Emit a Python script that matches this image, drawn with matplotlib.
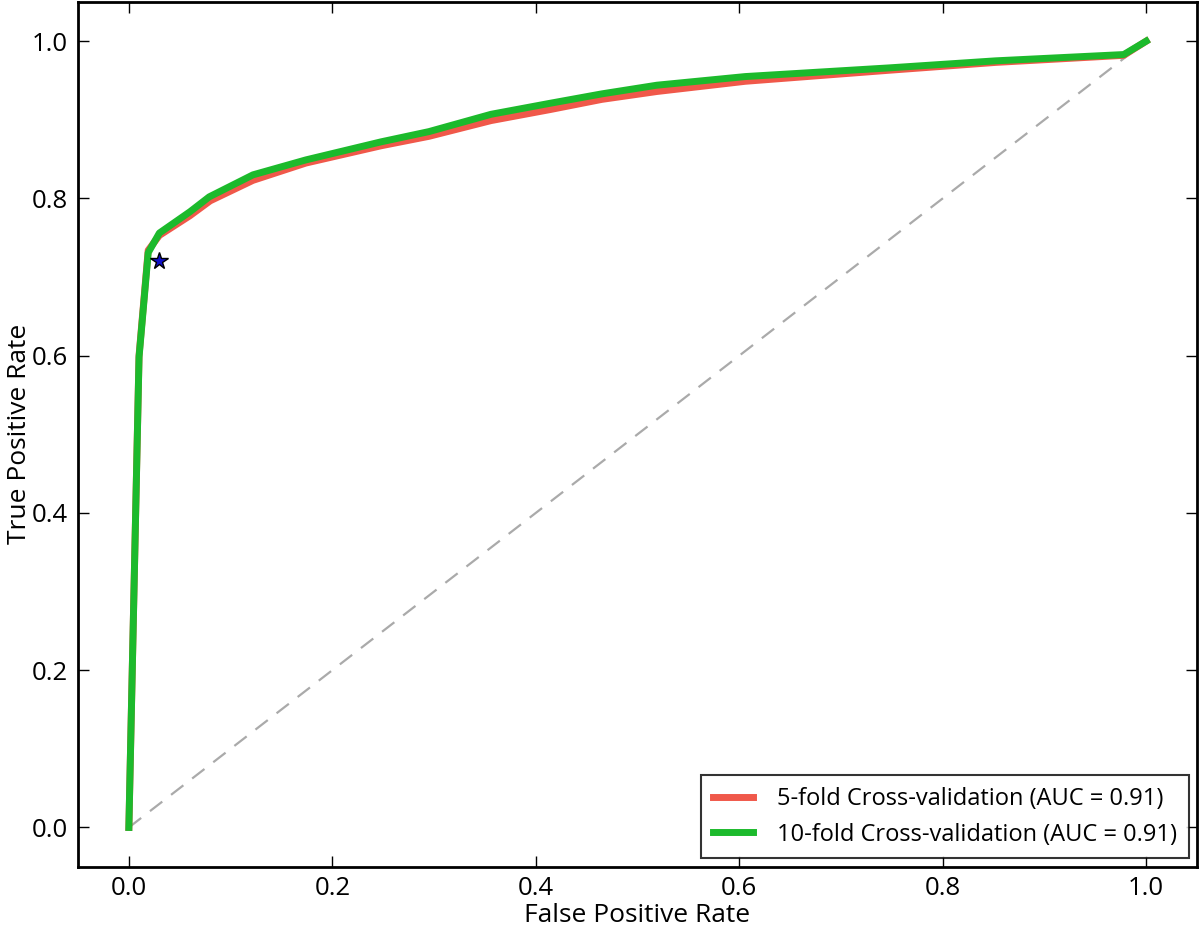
import matplotlib
matplotlib.use("Agg")
import matplotlib.pyplot as plt

plt.rcParams['font.family'] = ['Open Sans', 'DejaVu Sans']

# Curva ROC - validação cruzada 5-fold
fpr_5 = [0.0, 0.01, 0.019, 0.03, 0.06, 0.08, 0.122, 0.174, 0.248, 0.295, 0.356,
         0.414, 0.465, 0.519, 0.606, 0.747, 0.852, 0.978, 1.0]
tpr_5 = [0.0, 0.60, 0.734, 0.753, 0.778, 0.797, 0.823, 0.845, 0.867, 0.879, 0.899,
         0.913, 0.926, 0.936, 0.949, 0.963, 0.973, 0.982, 1.0]

# Curva ROC - validação cruzada 10-fold
fpr_10 = [0.0, 0.01, 0.019, 0.03, 0.06, 0.079, 0.122, 0.174, 0.248, 0.295, 0.356,
          0.414, 0.465, 0.519, 0.606, 0.747, 0.852, 0.978, 1.0]
tpr_10 = [0.0, 0.598, 0.731, 0.756, 0.783, 0.802, 0.830, 0.849, 0.872, 0.885, 0.907,
          0.921, 0.933, 0.944, 0.955, 0.966, 0.975, 0.983, 1.0]

# Ponto de operação escolhido (estrela)
ponto_x = [0.03]
ponto_y = [0.72]

rotulos = ["5-fold Cross-validation (AUC = 0.91)",
           "10-fold Cross-validation (AUC = 0.91)"]

fig = plt.figure(figsize=(12, 9.33), dpi=100)
ax = fig.add_axes([0.065, 0.071, 0.9325, 0.927])

# Linha diagonal (classificador aleatório)
ax.plot([0, 1], [0, 1], '--', color='#aaaaaa', linewidth=1.6, dashes=(7, 5))

ax.plot(fpr_5, tpr_5, color='#f0584a', linewidth=5, label=rotulos[0])
ax.plot(fpr_10, tpr_10, color='#1cba2c', linewidth=5, label=rotulos[1])
ax.plot(ponto_x, ponto_y, '*', color='#1010c8', markeredgecolor='black',
        markersize=13, markeredgewidth=1)

ax.set_xlim(-0.05, 1.05)
ax.set_ylim(-0.05, 1.05)
ax.set_xticks([0.0, 0.2, 0.4, 0.6, 0.8, 1.0])
ax.set_yticks([0.0, 0.2, 0.4, 0.6, 0.8, 1.0])
ax.tick_params(direction='in', top=True, right=True, length=8, width=1,
               labelsize=18.5, pad=7)
for s in ax.spines.values():
    s.set_linewidth(2)

ax.set_xlabel("False Positive Rate", fontsize=19, labelpad=1)
ax.set_ylabel("True Positive Rate", fontsize=19, labelpad=0)

leg = ax.legend(loc='lower right', fontsize=17, fancybox=False,
                edgecolor='black', borderaxespad=0.35, handlelength=1.7,
                handletextpad=1.0, borderpad=0.5)
leg.get_frame().set_linewidth(1.5)

fig.savefig("out.png", dpi=100)
